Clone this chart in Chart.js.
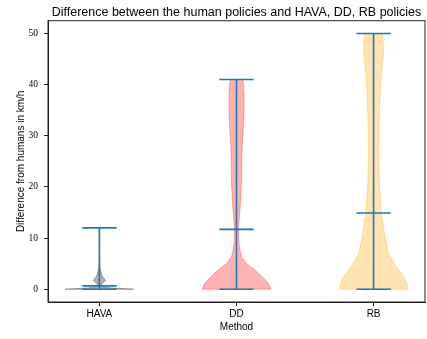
<!DOCTYPE html>
<html>
<head>
<meta charset="utf-8">
<script src="https://cdn.jsdelivr.net/npm/chart.js@4/dist/chart.umd.min.js"></script>
<style>
  html, body { margin: 0; padding: 0; background: #fff; }
  canvas { display: block; }
</style>
</head>
<body>
<canvas id="chart" width="427" height="339"></canvas>
<script>
// --- Data ---
const methods = ['HAVA', 'DD', 'RB'];
const yTicks = [0, 10, 20, 30, 40, 50];

// extrema and medians
const mins = [0, 0, 0];
const maxs = [12, 41, 50];
const medians = [0.65, 11.7, 14.9];

// kde outline of each violin (value, relative density)
const havaValues  = [0, 0.1, 0.2, 0.35, 0.5, 0.8, 1.1, 1.4, 1.7, 2.0, 2.3, 2.6, 3.0, 3.4, 3.8, 4.2, 5, 6, 8, 10, 12];
const havaDensity = [1, 0.75, 0.45, 0.2, 0.1, 0.06, 0.07, 0.13, 0.18, 0.15, 0.11, 0.08, 0.06, 0.045, 0.03, 0.02, 0.01, 0.006, 0.004, 0.003, 0.003];

const ddValues  = [0, 1.1, 2.4, 3.7, 5.0, 6.3, 7.6, 9.0, 12.2, 15.4, 18.7, 21.9, 25.2, 28.5, 31.7, 35.0, 38.2, 40.2, 41];
const ddDensity = [1, 0.93, 0.76, 0.54, 0.29, 0.15, 0.1, 0.07, 0.06, 0.1, 0.13, 0.15, 0.15, 0.17, 0.2, 0.22, 0.22, 0.2, 0.18];

const rbValues  = [0, 1.1, 2.4, 4.4, 7.0, 10.2, 14.9, 20.0, 26.5, 33.0, 39.5, 42.8, 46.0, 48.5, 50];
const rbDensity = [1, 0.98, 0.88, 0.66, 0.43, 0.33, 0.23, 0.17, 0.15, 0.16, 0.2, 0.24, 0.29, 0.28, 0.26];

const violinValues = [havaValues, ddValues, rbValues];
const violinDensity = [havaDensity, ddDensity, rbDensity];
const violinColors = ['rgba(0,0,0,0.3)', 'rgba(255,0,0,0.3)', 'rgba(255,165,0,0.3)'];

const lineColor = '#1f77b4';
const halfWidth = 0.25;   // violin half width at max density
const barHalf = 0.125;    // half length of the extrema / median bars

// --- Helper: build the bar / stem segments for one method ---
const gap = { x: null, y: null };
const buildSegments = (i) => {
    const p = i + 1;
    return [
        { x: p - barHalf, y: maxs[i] }, { x: p + barHalf, y: maxs[i] }, gap,
        { x: p, y: mins[i] }, { x: p, y: maxs[i] }, gap,
        { x: p - barHalf, y: mins[i] }, { x: p + barHalf, y: mins[i] }, gap,
        { x: p - barHalf, y: medians[i] }, { x: p + barHalf, y: medians[i] }
    ];
};

const datasets = methods.map((m, i) => ({
    label: m,
    data: buildSegments(i),
    showLine: true,
    spanGaps: false,
    borderColor: lineColor,
    borderWidth: 1.6,
    pointRadius: 0,
    pointHoverRadius: 0,
    fill: false
}));

// --- Plugins ---
const violinPlugin = {
    id: 'violins',
    beforeDatasetsDraw(chart) {
        const { ctx, scales: { x, y } } = chart;
        ctx.save();
        violinValues.forEach((vals, i) => {
            const dens = violinDensity[i];
            const p = i + 1;
            ctx.beginPath();
            vals.forEach((v, k) => {
                const px = x.getPixelForValue(p + dens[k] * halfWidth);
                const py = y.getPixelForValue(v);
                if (k === 0) ctx.moveTo(px, py); else ctx.lineTo(px, py);
            });
            for (let k = vals.length - 1; k >= 0; k--) {
                ctx.lineTo(x.getPixelForValue(p - dens[k] * halfWidth), y.getPixelForValue(vals[k]));
            }
            ctx.closePath();
            ctx.fillStyle = violinColors[i];
            ctx.strokeStyle = violinColors[i];
            ctx.lineWidth = 1;
            ctx.fill();
            ctx.stroke();
        });
        ctx.restore();
    }
};

const framePlugin = {
    id: 'frame',
    afterDraw(chart) {
        const { ctx, chartArea: a } = chart;
        ctx.save();
        ctx.strokeStyle = '#222';
        ctx.lineWidth = 1;
        ctx.strokeRect(a.left, a.top, a.right - a.left, a.bottom - a.top);
        ctx.restore();
    }
};

new Chart(document.getElementById('chart'), {
    type: 'scatter',
    data: { datasets },
    plugins: [violinPlugin, framePlugin],
    options: {
        responsive: false,
        animation: false,
        events: [],
        layout: { padding: { left: 0, right: 2, top: 0, bottom: 0 } },
        plugins: {
            legend: { display: false },
            tooltip: { enabled: false },
            title: {
                display: true,
                fullSize: false,
                text: 'Difference between the human policies and HAVA, DD, RB policies',
                color: '#000',
                font: { family: 'Liberation Sans', size: 12.5, weight: 'normal' },
                padding: { top: 5, bottom: 0.7 }
            }
        },
        scales: {
            x: {
                type: 'linear',
                min: 0.625,
                max: 3.375,
                afterBuildTicks: (scale) => { scale.ticks = methods.map((m, i) => ({ value: i + 1 })); },
                afterFit: (scale) => { scale.height = 37; },
                ticks: {
                    callback: (value) => methods[value - 1],
                    color: '#000',
                    font: { family: 'Liberation Sans', size: 10 },
                    padding: 2,
                    maxRotation: 0
                },
                grid: { drawOnChartArea: false, drawTicks: true, tickLength: 4, color: '#222' },
                border: { display: true, color: '#222', width: 1 },
                title: {
                    display: true,
                    text: 'Method',
                    color: '#000',
                    font: { family: 'Liberation Sans', size: 10 },
                    padding: { top: 0, bottom: 6 }
                }
            },
            y: {
                type: 'linear',
                min: -2.5,
                max: 52.5,
                afterBuildTicks: (scale) => { scale.ticks = yTicks.map(v => ({ value: v })); },
                afterFit: (scale) => { scale.width = 48; },
                ticks: {
                    color: '#000',
                    font: { family: 'Liberation Serif', size: 9.5 },
                    padding: 6
                },
                grid: { drawOnChartArea: false, drawTicks: true, tickLength: 4, color: '#222' },
                border: { display: true, color: '#222', width: 1 },
                title: {
                    display: true,
                    text: 'Difference from humans in km/h',
                    color: '#000',
                    font: { family: 'Liberation Sans', size: 10 },
                    padding: { top: 15.7, bottom: 0 }
                }
            }
        }
    }
});
</script>
</body>
</html>
